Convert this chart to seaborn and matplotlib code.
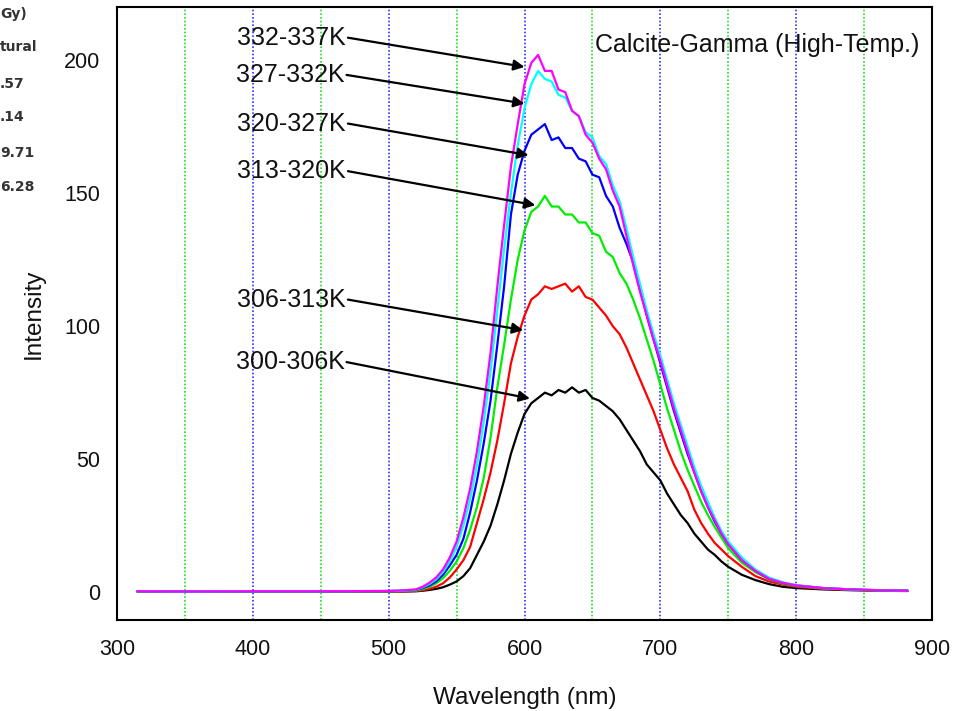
import matplotlib
matplotlib.use("Agg")
import matplotlib.pyplot as plt
from matplotlib.ticker import MultipleLocator
import pandas as pd
import seaborn as sns

# ─────────────────────────────────────────────
# data (wavelength nm / intensity)
# ─────────────────────────────────────────────
wavelength = [315, 350, 400, 450, 500, 510,
              520, 525, 530, 535, 540, 545, 550, 555, 560, 565,
              570, 575, 580, 585, 590, 595, 600, 605, 610, 615,
              620, 625, 630, 635, 640, 645, 650, 655, 660, 665,
              670, 675, 680, 685, 690, 695, 700, 705, 710, 715,
              720, 725, 730, 735, 740, 745, 750,
              760, 770, 780, 790, 800, 820, 840, 860, 882]

k332_337 = [0.3, 0.2, 0.3, 0.3, 0.4, 0.6,
            1, 2, 3.5, 5.5, 8.5, 13, 19, 28, 39, 53,
            70, 90, 115, 138, 160, 176, 191, 199, 202, 196,
            196, 189, 188, 181, 179, 172, 169, 163, 159, 151,
            145, 134, 123, 113, 104, 95, 87, 78, 69, 61,
            53, 45, 38, 32, 27, 22, 18,
            12, 8, 5, 3.5, 2.5, 1.5, 1, 0.7, 0.5]

k327_332 = [0.3, 0.2, 0.3, 0.3, 0.4, 0.5,
            0.9, 1.8, 3, 4.8, 7.5, 11.5, 17, 25, 35, 48,
            64, 83, 106, 129, 150, 168, 182, 191, 196, 193,
            192, 187, 186, 181, 179, 173, 171, 164, 161, 153,
            147, 137, 126, 116, 106, 97, 89, 80, 71, 63,
            55, 47, 40, 34, 28, 23, 19,
            13, 8.5, 5.5, 3.7, 2.6, 1.5, 1, 0.7, 0.5]

k320_327 = [0.3, 0.2, 0.3, 0.3, 0.4, 0.5,
            0.8, 1.5, 2.5, 4, 6.5, 10, 14, 20, 30, 42,
            56, 72, 93, 115, 142, 157, 166, 172, 174, 176,
            170, 171, 167, 167, 163, 162, 157, 156, 149, 145,
            137, 131, 124, 114, 104, 95, 86, 77, 68, 60,
            52, 45, 38, 32, 26.5, 22, 18,
            12, 8, 5, 3.5, 2.5, 1.5, 1, 0.7, 0.5]

k313_320 = [0.2, 0.2, 0.2, 0.3, 0.3, 0.4,
            0.6, 1.1, 2, 3.3, 5.2, 8, 11.5, 16.5, 23.5, 32,
            43, 58, 77, 93, 110, 125, 136, 143, 145, 149,
            145, 145, 142, 142, 139, 139, 135, 134, 128, 126,
            120, 116, 110, 103, 95, 87, 78, 69, 61, 53,
            46, 40, 34, 29, 24.5, 20.5, 16.5,
            11, 7.5, 4.8, 3.2, 2.3, 1.4, 0.9, 0.6, 0.5]

k306_313 = [0.2, 0.2, 0.2, 0.2, 0.3, 0.3,
            0.4, 0.7, 1.2, 2, 3.3, 5.5, 8.5, 12, 17, 26,
            35, 45, 57, 71, 86, 96, 104, 110, 112, 115,
            114, 115, 116, 113, 115, 111, 110, 107, 104, 100,
            97, 92, 86, 80, 74, 68, 61, 54, 48, 43,
            38, 31, 26, 22, 18.5, 16, 13.5,
            9.5, 6, 4, 2.8, 2, 1.2, 0.9, 0.6, 0.5]

k300_306 = [0.2, 0.2, 0.2, 0.2, 0.2, 0.2,
            0.3, 0.5, 0.8, 1.2, 1.8, 2.8, 4, 6, 9, 14,
            19, 25, 33, 42, 52, 60, 67, 71, 73, 75,
            74, 76, 75, 77, 75, 76, 73, 72, 70, 68,
            65, 61, 57, 53, 48, 45, 42, 37, 33, 29,
            26, 22, 19, 16, 14, 11.5, 9.5,
            6.5, 4.5, 3, 2, 1.5, 1, 0.7, 0.5, 0.4]

labels = ["300-306K", "306-313K", "313-320K", "320-327K", "327-332K", "332-337K"]
colors = ["black", "#ff0000", "#00ee00", "#0000ff", "#00ffff", "#ff00ff"]

# arrow tips on the curves and label anchors (right end of label text)
tip_x = [604, 599, 608, 603, 600, 600]
tip_y = [72.8, 98.5, 145.5, 164.3, 183.7, 197.5]
label_x = [469, 470, 470, 470, 469, 470]
label_y = [86.5, 110, 158.3, 176.2, 194.5, 208.5]

df = pd.DataFrame({
    "wavelength": wavelength * 6,
    "intensity": k300_306 + k306_313 + k313_320 + k320_327 + k327_332 + k332_337,
    "range": [lab for lab in labels for _ in wavelength],
})

# ─────────────────────────────────────────────
# figure
# ─────────────────────────────────────────────
sns.set_style("white")
plt.rcParams["font.family"] = ["Liberation Sans", "DejaVu Sans"]

fig = plt.figure(figsize=(9.58, 7.11), dpi=100)
ax = fig.add_axes([0.1221, 0.128, 0.8508, 0.862])

for x in [350, 450, 550, 650, 750, 850]:
    ax.axvline(x, color="#22dd22", ls=(0, (1, 1.2)), lw=1.2, zorder=0)
for x in [400, 500, 600, 700, 800]:
    ax.axvline(x, color="#3333ff", ls=(0, (1, 1.2)), lw=1.2, zorder=0)

sns.lineplot(
    data=df, x="wavelength", y="intensity",
    hue="range", hue_order=labels,
    palette=dict(zip(labels, colors)),
    estimator=None, sort=False, legend=False,
    linewidth=1.6, ax=ax
)

for lab, tx, ty, lx, ly in zip(labels, tip_x, tip_y, label_x, label_y):
    ax.text(lx - 1.5, ly, lab, ha="right", va="center", fontsize=18, color="#111111")
    ax.annotate(
        "", xy=(tx, ty), xytext=(lx, ly),
        arrowprops=dict(arrowstyle="-|>", color="black", lw=1.6,
                        mutation_scale=16, shrinkA=0, shrinkB=0)
    )

ax.text(0.985, 0.938, "Calcite-Gamma (High-Temp.)", transform=ax.transAxes,
        ha="right", va="center", fontsize=18, color="#111111")

ax.set_xlim(300, 900)
ax.set_ylim(-10.5, 220)
ax.set_xticks(range(300, 901, 100))
ax.set_yticks(range(0, 201, 50))
ax.xaxis.set_minor_locator(MultipleLocator(50))
ax.tick_params(axis="x", which="major", direction="out", length=8, width=1.5,
               labelsize=15.5, pad=6, colors="#111111")
ax.tick_params(axis="x", which="minor", direction="out", length=4.5, width=1.3)
ax.tick_params(axis="y", which="major", direction="in", length=8.5, width=1.5,
               labelsize=15.5, pad=12, colors="#111111")
ax.set_xlabel("Wavelength (nm)", fontsize=17.5, labelpad=19, color="#111111")
ax.set_ylabel("Intensity", fontsize=17.5, labelpad=14, color="#111111")
for s in ax.spines.values():
    s.set_color("black")
    s.set_linewidth(1.5)

# clipped legend text left over at the image's left edge
side_text = ["Gy)", "tural", ".57", ".14", "9.71", "6.28"]
side_y = [0.980, 0.934, 0.882, 0.835, 0.785, 0.737]
for t, y in zip(side_text, side_y):
    fig.text(0.0, y, t, ha="left", va="center", fontsize=10,
             fontweight="bold", family="DejaVu Sans", color="#333333")

fig.savefig("out.png", dpi=100)
